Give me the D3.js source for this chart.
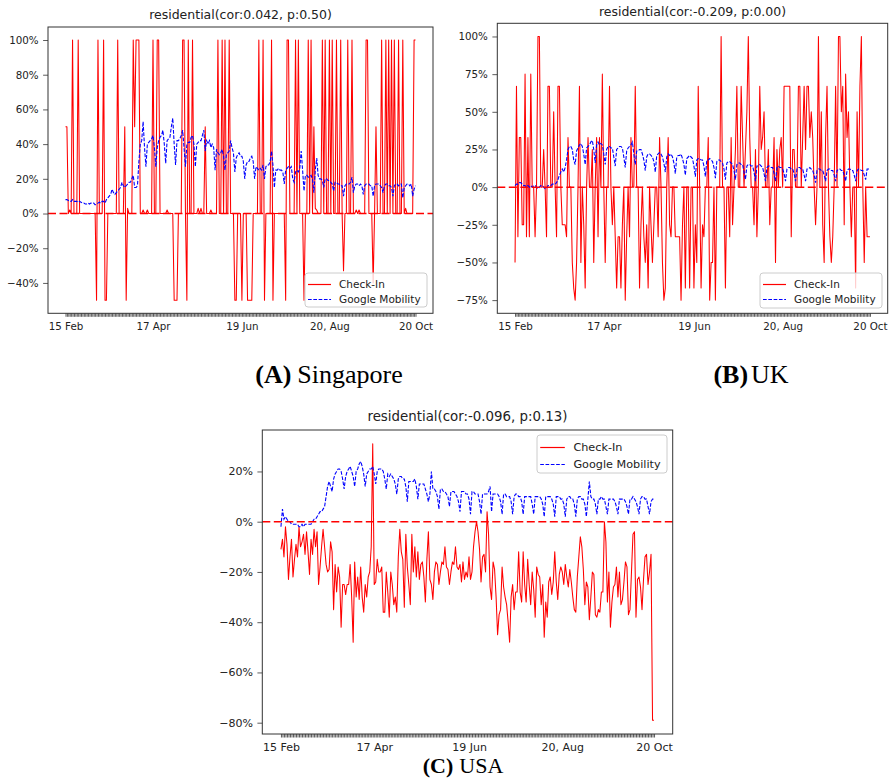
<!DOCTYPE html>
<html>
<head>
<meta charset="utf-8">
<script src="https://cdn.jsdelivr.net/npm/d3@7"></script>
<style>
  body { margin: 0; background: #fff; }
  svg { display: block; }
</style>
</head>
<body>
<div id="chart"></div>
<script>
// one point per day, 15 Feb - 20 Oct 2020
var dates = d3.timeDay.range(new Date(2020, 1, 15), new Date(2020, 9, 21))

var tickDates = [new Date(2020, 1, 15), new Date(2020, 3, 17), new Date(2020, 5, 19),
                 new Date(2020, 7, 20), new Date(2020, 9, 20)]
var tickLabels = ["15 Feb", "17 Apr", "19 Jun", "20, Aug", "20 Oct"]

var seriesNames = ["Check-In", "Google Mobility"]

var sgYTicks = [-40, -20, 0, 20, 40, 60, 80, 100]
var ukYTicks = [-75, -50, -25, 0, 25, 50, 75, 100]
var usYTicks = [-80, -60, -40, -20, 0, 20]

var sgTitle = "residential(cor:0.042, p:0.50)"
var ukTitle = "residential(cor:-0.209, p:0.00)"
var usTitle = "residential(cor:-0.096, p:0.13)"

var sgCheckIn = [
  50,50,0,2,0,100,0,0,0,100,
  0,0,0,0,0,0,0,0,0,0,
  0,0,-50,100,0,0,0,100,-50,-50,
  0,0,0,0,0,0,0,100,0,0,
  0,0,50,-50,3,0,0,0,100,50,
  100,100,100,0,0,2,0,0,2,0,
  0,0,100,0,0,100,100,0,0,0,
  0,0,2,0,0,0,0,-50,-50,-50,
  0,0,0,100,100,0,-50,100,0,0,
  100,0,0,0,3,0,3,0,0,50,
  0,0,0,2,0,0,0,0,100,0,
  0,100,0,100,0,0,100,0,0,0,
  -50,-50,0,0,0,-50,0,0,0,-50,
  -50,-50,-50,0,0,0,0,100,0,0,
  100,-50,0,0,0,0,100,-50,0,0,
  0,0,0,0,0,0,-50,100,100,0,
  0,0,0,100,0,100,0,0,0,-50,
  0,0,100,0,100,0,50,3,2,0,
  0,0,100,0,100,0,0,100,0,100,
  0,0,100,0,0,100,0,-33,0,0,
  100,0,0,100,0,0,2,0,2,0,
  0,0,0,100,100,0,0,0,-40,0,
  50,0,0,0,100,0,0,100,0,100,
  0,100,0,100,0,0,100,0,0,100,
  0,3,0,0,0,0,0,100,100]

var sgMobility = [
  8,8,7.5,7,7,8,7,7,7,6.5,
  7,6.5,6,6,5.5,5.5,6,5.5,6,6,
  6,5,5.5,6,6.5,6,7,7,6,8,
  9,10,11,14,12,11,12,13,14,15,
  18,16,15,16,17,18,18,20,22,15,
  15,16,30,40,42,53,38,27,40,41,
  42,43,45,38,27,38,42,44,45,48,
  40,29,42,43,44,50,55,40,28,42,
  42,43,45,48,38,27,40,41,41,44,
  45,40,27,40,41,42,42,45,48,36,
  42,40,42,38,40,38,25,37,35,34,
  35,37,33,25,34,35,36,42,38,35,
  24,32,34,35,33,33,30,20,28,30,
  30,32,33,30,20,27,26,25,26,25,
  28,20,27,28,28,30,36,28,15,25,
  25,26,25,25,24,17,25,26,27,26,
  27,20,18,24,25,24,26,36,25,13,
  22,22,21,21,22,20,12,25,32,22,
  20,20,19,15,20,20,19,19,18,17,
  13,18,18,17,17,16,16,10,16,17,
  17,17,18,21,12,16,17,17,16,17,
  16,11,16,17,17,17,16,16,10,16,
  17,17,17,16,15,12,16,17,17,16,
  16,15,10,16,17,17,16,17,17,9,
  15,16,17,17,16,17,10,14,16]

var ukCheckIn = [
  -50,67,-33,33,33,-25,-25,75,-33,33,
  -33,75,0,0,-33,0,100,100,0,0,
  25,0,-33,67,67,0,0,50,0,-33,
  67,67,0,-25,-25,-25,-33,33,0,0,
  -50,-67,-75,-50,0,67,-50,0,-25,-67,
  0,33,0,0,25,-50,0,33,-33,33,
  0,75,0,-50,0,0,67,0,-25,0,
  -33,-67,-33,-33,-67,-25,0,-75,-33,0,
  -33,33,0,0,67,0,0,-67,-25,0,
  -33,-50,-25,-67,0,-25,-50,-25,0,0,
  -33,33,0,-50,-75,-67,0,33,-25,-33,
  0,0,-33,-33,-33,-33,-75,-25,0,-67,
  0,0,-67,0,0,-67,-25,-50,67,0,
  -67,-25,-33,0,0,33,-75,-50,-50,0,
  -75,0,0,0,100,0,0,-67,0,0,
  -33,33,-25,0,25,67,0,0,67,33,
  0,25,50,100,33,0,0,-25,25,-33,
  0,67,25,33,50,0,0,25,-25,0,
  0,33,-50,25,0,25,33,0,67,67,
  67,67,67,-33,25,25,0,0,67,67,
  0,33,67,25,67,67,33,50,33,0,
  -25,0,100,0,50,-25,-50,33,67,0,
  -33,-50,-33,0,67,0,100,100,50,67,
  -25,75,33,50,0,-33,0,0,-67,50,
  0,67,100,0,-50,0,-33,-33,-33]

var ukMobility = [
  1,2,2,3,3,2,1,1,0,1,
  0,1,0,1,1,0,-1,0,1,1,
  0,-1,-1,1,1,1,2,2,2,3,
  5,8,10,12,10,13,18,25,27,27,
  25,18,15,24,26,28,29,27,22,15,
  26,27,28,30,31,25,16,28,30,28,
  29,28,22,15,25,27,27,26,26,20,
  14,25,26,27,27,26,20,13,24,26,
  27,28,30,22,15,24,24,25,25,22,
  18,11,20,22,22,21,20,17,10,21,
  22,23,22,20,16,10,20,22,21,22,
  20,16,9,20,21,21,22,19,15,8,
  19,20,21,20,19,14,7,18,19,19,
  18,18,14,7,18,18,19,18,17,13,
  6,17,18,18,17,16,12,5,16,17,
  17,16,15,11,5,15,16,16,15,15,
  10,5,14,15,15,14,14,10,4,14,
  14,15,14,13,9,4,13,14,14,13,
  13,9,4,13,14,13,13,12,9,4,
  12,13,13,12,12,9,4,12,13,13,
  12,12,8,4,12,12,13,12,11,8,
  3,11,12,12,11,11,8,4,11,12,
  12,11,11,8,4,11,12,12,11,11,
  8,4,11,12,12,11,11,8,4,11,
  12,12,11,11,8,5,12,12,12]

var usCheckIn = [
  -11,-7,-14,-2,-9,-23,-14,-7,-22,-15,
  -9,-14,-2,-10,-8,-5,-13,-4,-12,-21,
  -7,-13,-3,-10,-4,-25,-18,-10,-3,-10,
  -17,-20,-19,-8,-12,-35,-17,-28,-18,-22,
  -42,-25,-25,-29,-25,-25,-17,-30,-48,-16,
  -30,-22,-31,-18,-30,-36,-25,-30,-22,-20,
  -10,31,-25,-24,-15,-20,-20,-18,-36,-36,
  -20,-28,-38,-20,-25,-33,-30,-36,-14,-3,
  -12,-15,-34,-5,-18,-25,-33,-5,-20,-10,
  -22,-12,-23,-17,-16,-22,-32,-15,-4,-23,
  -25,-31,-20,-16,-17,-25,-20,-16,-17,-10,
  -18,-19,-25,-20,-16,-17,-10,-18,-19,-17,
  -24,-16,-23,-20,-22,-14,-23,-20,-10,-4,
  0,-4,-11,-24,-14,-13,-20,4,-5,-26,
  -31,-16,-19,-30,-45,-37,-35,-18,-26,-30,
  -33,-40,-48,-30,-25,-35,-28,-28,-12,-28,
  -32,-12,-25,-32,-15,-25,-33,-20,-27,-38,
  -18,-21,-22,-33,-25,-46,-32,-38,-24,-22,
  -29,-24,-12,-24,-31,-21,-18,-20,-25,-17,
  -22,-26,-19,-24,-30,-35,-36,-22,-14,-6,
  -10,-19,-33,-24,-26,-39,-30,-20,-21,-37,
  -38,-35,-36,-28,-28,0,-8,-32,-20,-42,
  -32,-26,-25,-18,-30,-20,-33,-31,-24,-16,
  -18,-37,-35,-20,-5,-4,-38,-23,-22,-26,
  -35,-23,-14,-13,-25,-20,-13,-79,-79]

var usMobility = [
  -2,5,1,2,1,0,0,-1,-1,-1,
  -1,-1,-2,-2,-1,-2,-1,-1,-1,-1,
  -1,0,1,1,2,3,4,4,5,6,
  10,14,16,14,12,17,19,20,21,21,
  20,17,13,18,20,21,22,20,18,14,
  20,21,23,24,22,19,14,19,20,21,
  21,22,19,15,20,21,21,21,20,17,
  13,19,18,19,18,17,15,11,17,18,
  18,17,17,14,8,16,16,16,16,17,
  14,9,15,15,15,15,13,11,8,11,
  20,13,13,12,10,5,13,13,12,12,
  11,10,6,12,12,12,11,10,8,4,
  12,12,12,11,11,9,3,12,12,11,
  11,11,8,3,11,11,11,11,12,14,
  4,11,11,11,11,10,8,3,11,11,
  10,10,10,8,3,10,11,11,10,10,
  8,3,10,10,10,10,10,7,3,10,
  10,10,10,9,7,2,10,10,10,10,
  9,7,2,10,10,10,9,9,7,2,
  9,10,10,9,9,7,2,9,10,10,
  9,9,7,2,9,16,10,9,9,7,
  3,9,9,10,9,9,6,3,9,9,
  9,9,8,6,3,9,9,9,9,8,
  6,3,9,9,10,9,8,6,3,9,
  10,10,9,9,6,3,8,9,9]

var svgSize = { width: 892, height: 783 }

var svg = d3.select("#chart").append("svg")
            .attr("width", svgSize.width)
            .attr("height", svgSize.height)

var fontSans = "DejaVu Sans, sans-serif"
var fontSerif = "Liberation Serif, Times New Roman, serif"

function pct(d) {
    return (d < 0 ? "\u2212" : "") + Math.abs(d) + "%"
}

function drawPanel(p, checkIn, mobility) {
    var g = svg.append("g")
    var s = p.scale
    var pad = (p.right - p.left) * 0.05 / 1.1

    var x = d3.scaleTime()
              .domain(d3.extent(dates))
              .range([p.left + pad, p.right - pad])

    // matplotlib style 5% margin round the data
    var lo = d3.min(checkIn.concat(mobility))
    var hi = d3.max(checkIn.concat(mobility))
    var m = (hi - lo) * 0.05
    var y = d3.scaleLinear()
              .domain([lo - m, hi + m])
              .range([p.bottom, p.top])

    var labelOf = tickDates.map(d => +d)
    var xAxis = d3.axisBottom(x)
                  .tickValues(dates)
                  .tickSize(3.5)
                  .tickPadding(5.5 * s)
                  .tickFormat(d => {
                      var i = labelOf.indexOf(+d)
                      return i >= 0 ? tickLabels[i] : ""
                  })
    var yAxis = d3.axisLeft(y)
                  .tickValues(p.yTicks)
                  .tickSize(4.9)
                  .tickPadding(4.5)
                  .tickFormat(pct)

    var xg = g.append("g").attr("transform", `translate(0, ${p.bottom})`).call(xAxis)
    var yg = g.append("g").attr("transform", `translate(${p.left}, 0)`).call(yAxis)
    ;[xg, yg].forEach(a => {
        a.select(".domain").remove()
        a.selectAll(".tick line").attr("stroke", "#333").attr("stroke-width", 0.8)
        a.selectAll(".tick text")
         .attr("fill", "#222")
         .style("font-family", fontSans)
         .style("font-size", (10.3 * s) + "px")
    })

    var line = d3.line()
                 .x((d, i) => x(dates[i]))
                 .y(d => y(d))

    g.append("path").datum(checkIn)
     .attr("d", line)
     .attr("fill", "none")
     .attr("stroke", "#ff0000")
     .attr("stroke-width", 1.05)
     .attr("stroke-linejoin", "round")

    g.append("path").datum(mobility)
     .attr("d", line)
     .attr("fill", "none")
     .attr("stroke", "#0000ff")
     .attr("stroke-width", 1.1)
     .attr("stroke-dasharray", "3.7,1.6")

    g.append("line")
     .attr("x1", p.left).attr("x2", p.right)
     .attr("y1", y(0)).attr("y2", y(0))
     .attr("stroke", "#ff0000")
     .attr("stroke-width", 1.5)
     .attr("stroke-dasharray", "8,3.5")

    g.append("rect")
     .attr("x", p.left).attr("y", p.top)
     .attr("width", p.right - p.left)
     .attr("height", p.bottom - p.top)
     .attr("fill", "none")
     .attr("stroke", "#333")
     .attr("stroke-width", 1)

    g.append("text")
     .attr("x", (p.left + p.right) / 2)
     .attr("y", p.titleY)
     .attr("text-anchor", "middle")
     .attr("fill", "#222")
     .style("font-family", fontSans)
     .style("font-size", (12.5 * s) + "px")
     .text(p.title)

    // legend
    var lg = g.append("g").attr("transform", `translate(${p.legend[0]}, ${p.legend[1]})`)
    lg.append("rect")
      .attr("width", p.legend[2]).attr("height", p.legend[3])
      .attr("rx", 3)
      .attr("fill", "white").attr("fill-opacity", 0.8)
      .attr("stroke", "#cccccc")
    var rowH = (p.legend[3] - 4) / 2
    seriesNames.forEach((name, i) => {
        var cy = Math.round(2 + rowH * (i + 0.5) + 1) + 0.5
        var handle = lg.append("line")
                       .attr("x1", 3 * s).attr("x2", 26 * s)
                       .attr("y1", cy).attr("y2", cy)
                       .attr("stroke", i == 0 ? "#ff0000" : "#0000ff")
                       .attr("stroke-width", 1.2)
        if (i == 1) handle.attr("stroke-dasharray", "3.7,1.6")
        lg.append("text")
          .attr("x", 34 * s)
          .attr("y", cy)
          .attr("dy", "0.35em")
          .attr("fill", "#222")
          .style("font-family", fontSans)
          .style("font-size", (10.5 * s) + "px")
          .text(name)
    })

    // caption under the panel
    var cap = svg.append("text")
                 .attr("x", p.caption[0])
                 .attr("y", p.caption[1])
                 .attr("text-anchor", "middle")
                 .attr("fill", "#000")
                 .style("font-family", fontSerif)
                 .style("font-size", p.caption[2] + "px")
    cap.append("tspan").style("font-weight", "bold").text(p.caption[3])
    cap.append("tspan").attr("dx", p.caption[5]).text(p.caption[4])
}

drawPanel({left: 48, right: 433, top: 27, bottom: 313.3, scale: 1,
           yTicks: sgYTicks, title: sgTitle, titleY: 19,
           legend: [305, 273, 122, 34],
           caption: [329, 383, 26, "(A)", "Singapore", 6]}, sgCheckIn, sgMobility)

drawPanel({left: 497.3, right: 887.7, top: 23.3, bottom: 313.3, scale: 1,
           yTicks: ukYTicks, title: ukTitle, titleY: 15.5,
           legend: [760, 273, 122, 35],
           caption: [751, 383, 26, "(B)", "UK", 3]}, ukCheckIn, ukMobility)

drawPanel({left: 262.3, right: 672.7, top: 430, bottom: 734, scale: 1.07,
           yTicks: usYTicks, title: usTitle, titleY: 421,
           legend: [537, 435, 130, 38],
           caption: [463, 773, 22, "(C)", "USA", 6]}, usCheckIn, usMobility)
</script>
</body>
</html>
